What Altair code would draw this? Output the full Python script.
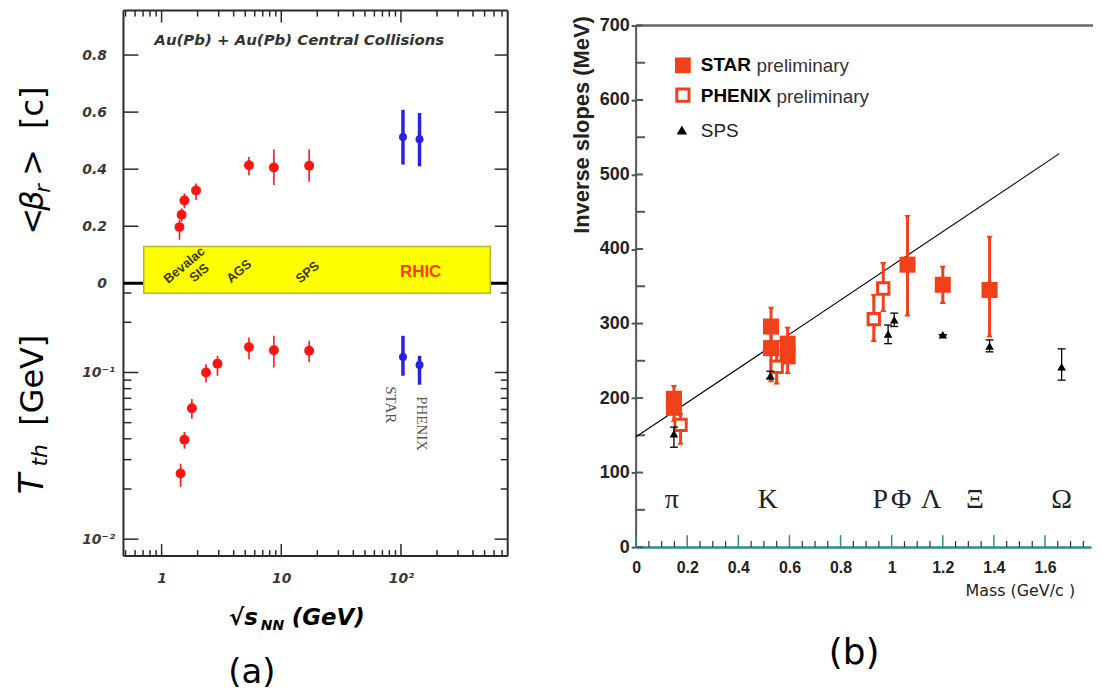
import altair as alt
import pandas as pd

# ---------------- panel (a): radial flow velocity <beta_r> ----------------
beta_red_x = [1.41, 1.47, 1.55, 1.94, 5.37, 8.67, 17.1]
beta_red_y = [0.197, 0.240, 0.290, 0.325, 0.414, 0.406, 0.412]
beta_red_lo = [0.153, 0.216, 0.263, 0.292, 0.379, 0.345, 0.356]
beta_red_hi = [0.222, 0.263, 0.315, 0.350, 0.443, 0.469, 0.469]
beta_blue_x = [104.0, 143.0]
beta_blue_y = [0.513, 0.505]
beta_blue_lo = [0.416, 0.410]
beta_blue_hi = [0.608, 0.597]

# ---------------- panel (a): thermal temperature T_th ----------------
t_red_x = [1.44, 1.55, 1.79, 2.35, 2.93, 5.37, 8.67, 17.1]
t_red_y = [0.0248, 0.0395, 0.061, 0.100, 0.113, 0.142, 0.136, 0.135]
t_red_lo = [0.0206, 0.0349, 0.0527, 0.0872, 0.0955, 0.120, 0.107, 0.115]
t_red_hi = [0.0284, 0.0440, 0.0693, 0.112, 0.126, 0.162, 0.166, 0.155]
t_blue_x = [104.0, 143.0]
t_blue_y = [0.124, 0.111]
t_blue_lo = [0.0956, 0.0845]
t_blue_hi = [0.166, 0.126]
exp_names = ["STAR", "PHENIX"]
exp_label_x = [82.6, 149.0]
exp_label_t = [0.0641, 0.0494]

acc_names = ["Bevalac", "SIS", "AGS", "SPS"]
acc_x = [1.55, 2.07, 4.44, 16.6]
acc_beta = [0.063, 0.036, 0.042, 0.038]
rhic_name = ["RHIC"]
rhic_x = [146.0]
rhic_beta = [0.038]
band_x0 = [0.709]
band_x1 = [558.0]
band_top = [0.129]

log_major = [1, 10, 100]
log_minor = [0.5, 0.6, 0.7, 0.8, 0.9, 2, 3, 4, 5, 6, 7, 8, 9, 20, 30, 40, 50,
             60, 70, 80, 90, 200, 300, 400, 500, 600, 700]
beta_ticks = [0.2, 0.4, 0.6, 0.8]
beta_labels = [0, 0.2, 0.4, 0.6, 0.8]
t_major = [0.01, 0.1]
t_minor = [0.02, 0.03, 0.04, 0.05, 0.06, 0.07, 0.08, 0.09, 0.2, 0.3]
zero_line = [0.0]

# ---------------- panel (b): inverse slopes vs mass ----------------
star_m = [0.148, 0.148, 0.528, 0.528, 0.593, 0.593, 1.062, 1.200, 1.383]
star_t = [199, 187, 296, 267, 273, 256, 379, 352, 345]
star_lo = [187, 172, 278, 225, 250, 236, 313, 330, 285]
star_hi = [214, 198, 319, 290, 292, 275, 442, 374, 414]
phenix_m = [0.174, 0.550, 0.930, 0.967]
phenix_t = [164, 242, 306, 347]
phenix_lo = [141, 222, 279, 319]
phenix_hi = [176, 262, 336, 379]
sps_m = [0.148, 0.525, 0.986, 1.010, 1.200, 1.383, 1.665]
sps_t = [152, 230, 286, 305, 285, 270, 242]
sps_lo = [134, 226, 273, 296, 285, 262, 224]
sps_hi = [161, 236, 298, 314, 285, 278, 266]
fit_m = [0.0, 1.656]
fit_t = [148, 528]
particles = ["π", "K", "P", "Φ", "Λ", "Ξ", "Ω"]
particle_m = [0.140, 0.515, 0.955, 1.037, 1.154, 1.326, 1.665]
mass_labels = [0, 0.2, 0.4, 0.6, 0.8, 1.0, 1.2, 1.4, 1.6]
mass_major = [0, 0.2, 0.4, 0.6, 0.8, 1.0, 1.2, 1.4, 1.6]
mass_minor = [0.05, 0.1, 0.15, 0.25, 0.3, 0.35, 0.45, 0.5, 0.55, 0.65, 0.7,
              0.75, 0.85, 0.9, 0.95, 1.05, 1.1, 1.15, 1.25, 1.3, 1.35, 1.45,
              1.5, 1.55, 1.65, 1.7, 1.75]
slope_labels = [0, 100, 200, 300, 400, 500, 600, 700]
slope_minor = [50, 150, 250, 350, 450, 550, 650]
frame_top = [700]
frame_left = [0]

# ---------------- styling ----------------
W_A, H_A = 386, 274          # each half of panel (a)
H_L = 2 * H_A                # full height of panel (a)
W_B, H_B = 457, 539
DV = "DejaVu Sans"
LS = "Liberation Sans"
SERIF = "Liberation Serif"
RED = "#ff1414"
BLUE = "#2b22dd"
ORANGE = "#f2401a"
FRAME = "#2a2a2a"
TEAL = "#2a8c8c"
LABEL = "#3a3a3a"

xs_a = alt.Scale(type="log", domain=[0.48, 780], nice=False)
ys_top = alt.Scale(domain=[0, 0.956], range=[H_A, 0], nice=False, zero=False)
ys_bot = alt.Scale(type="log", domain=[0.00792, 0.3428], range=[H_L, H_A], nice=False)
xs_b = alt.Scale(domain=[0, 1.78], nice=False, zero=False)
ys_b = alt.Scale(domain=[0, 720], nice=False, zero=False)

ONE = pd.DataFrame({"k": [0]})


def rule_px(x, x2, y, y2, color=FRAME, width=2.0):
    return alt.Chart(ONE).mark_rule(color=color, strokeWidth=width).encode(
        x=alt.value(x), x2=alt.value(x2), y=alt.value(y), y2=alt.value(y2))


def text_px(t, x, y, size, font=DV, angle=0, align="left", weight="normal",
            style="normal", color="black"):
    kw = dict(text=t, fontSize=size, font=font, align=align, baseline="middle",
              fontWeight=weight, fontStyle=style, color=color)
    if angle:
        kw["angle"] = angle
    return alt.Chart(ONE).mark_text(**kw).encode(x=alt.value(x), y=alt.value(y))


def xticks(values, scale, y0, y1, color=FRAME, width=1.5):
    return alt.Chart(pd.DataFrame({"v": values})).mark_rule(
        color=color, strokeWidth=width).encode(
        x=alt.X("v:Q", scale=scale, axis=None), y=alt.value(y0), y2=alt.value(y1))


def yticks(values, scale, x0, x1, color=FRAME, width=1.5):
    return alt.Chart(pd.DataFrame({"v": values})).mark_rule(
        color=color, strokeWidth=width).encode(
        y=alt.Y("v:Q", scale=scale, axis=None), x=alt.value(x0), x2=alt.value(x1))


def errbars(df, xs, ys, color, width):
    return alt.Chart(df).mark_rule(color=color, strokeWidth=width).encode(
        x=alt.X("x:Q", scale=xs, axis=None),
        y=alt.Y("lo:Q", scale=ys, axis=None), y2="hi:Q")


axis_lab = dict(labelFont=DV, labelFontSize=14, labelFontWeight="bold",
                labelFontStyle="italic", labelColor=LABEL, ticks=False,
                tickSize=0, domain=False, grid=False, title=None)

# ================= panel (a) =================
df_br = pd.DataFrame({"x": beta_red_x, "y": beta_red_y, "lo": beta_red_lo, "hi": beta_red_hi})
df_bb = pd.DataFrame({"x": beta_blue_x, "y": beta_blue_y, "lo": beta_blue_lo, "hi": beta_blue_hi})
df_acc = pd.DataFrame({"x": acc_x, "y": acc_beta, "name": acc_names})
df_rhic = pd.DataFrame({"x": rhic_x, "y": rhic_beta, "name": rhic_name})
df_band = pd.DataFrame({"x0": band_x0, "x1": band_x1, "top": band_top})
df_tr = pd.DataFrame({"x": t_red_x, "y": t_red_y, "lo": t_red_lo, "hi": t_red_hi})
df_tb = pd.DataFrame({"x": t_blue_x, "y": t_blue_y, "lo": t_blue_lo, "hi": t_blue_hi})
df_exp = pd.DataFrame({"x": exp_label_x, "y": exp_label_t, "name": exp_names})

a_layers = [
    # frame
    rule_px(0, W_A, 0, 0),
    rule_px(0, W_A, H_L, H_L),
    rule_px(0, 0, 0, H_L),
    rule_px(W_A, W_A, 0, H_L),
    # inward ticks
    xticks(log_major, xs_a, 0, 12),
    xticks(log_minor, xs_a, 0, 6),
    xticks(log_major, xs_a, H_L - 12, H_L),
    xticks(log_minor, xs_a, H_L - 6, H_L),
    yticks(beta_ticks, ys_top, 0, 15),
    yticks(beta_ticks, ys_top, W_A - 13, W_A),
    yticks(t_major, ys_bot, 0, 15),
    yticks(t_minor, ys_bot, 0, 8),
    yticks(t_major, ys_bot, W_A - 13, W_A),
    yticks(t_minor, ys_bot, W_A - 7, W_A),
    # zero line and beam energy band
    alt.Chart(pd.DataFrame({"v": zero_line})).mark_rule(color="black", strokeWidth=3).encode(
        y=alt.Y("v:Q", scale=ys_top, axis=None), x=alt.value(0), x2=alt.value(W_A)),
    alt.Chart(df_band).mark_rect(fill="#ffff00", stroke="#b8b43a", strokeWidth=1.5).encode(
        x=alt.X("x0:Q", scale=xs_a, axis=None), x2="x1:Q",
        y=alt.Y("top:Q", scale=ys_top, axis=None), y2=alt.value(H_A + 10)),
    alt.Chart(df_acc).mark_text(angle=320, font=LS, fontSize=13, fontWeight="bold",
                                color="#3a3a00").encode(
        x=alt.X("x:Q", scale=xs_a, axis=None), y=alt.Y("y:Q", scale=ys_top, axis=None),
        text="name:N"),
    alt.Chart(df_rhic).mark_text(font=LS, fontSize=17, fontWeight="bold", color="#ff3b00").encode(
        x=alt.X("x:Q", scale=xs_a, axis=None), y=alt.Y("y:Q", scale=ys_top, axis=None),
        text="name:N"),
    text_px("Au(Pb) + Au(Pb) Central Collisions", 31, 30, 15, weight="bold",
            style="italic", color="#333333"),
    alt.Chart(df_exp).mark_text(angle=90, font=SERIF, fontSize=15, color="#555555").encode(
        x=alt.X("x:Q", scale=xs_a, axis=None), y=alt.Y("y:Q", scale=ys_bot, axis=None),
        text="name:N"),
    # beta data
    errbars(df_br, xs_a, ys_top, RED, 1.6),
    alt.Chart(df_br).mark_circle(color=RED, size=100, opacity=1).encode(
        x=alt.X("x:Q", scale=xs_a, axis=None),
        y=alt.Y("y:Q", scale=ys_top,
                axis=alt.Axis(values=beta_labels, format="~g", labelPadding=17, orient="left",
                              **axis_lab))),
    errbars(df_bb, xs_a, ys_top, BLUE, 3.5),
    alt.Chart(df_bb).mark_circle(color=BLUE, size=65, opacity=1).encode(
        x=alt.X("x:Q", scale=xs_a, axis=None), y=alt.Y("y:Q", scale=ys_top, axis=None)),
    # temperature data
    errbars(df_tr, xs_a, ys_bot, RED, 1.6),
    alt.Chart(df_tr).mark_circle(color=RED, size=100, opacity=1).encode(
        x=alt.X("x:Q", scale=xs_a,
                axis=alt.Axis(values=log_major, labelPadding=16, labelFlush=False, orient="bottom",
                              labelExpr="datum.value > 50 ? '10²' : (datum.value > 5 ? '10' : '1')",
                              **axis_lab)),
        y=alt.Y("y:Q", scale=ys_bot,
                axis=alt.Axis(values=t_major, labelPadding=9, orient="left",
                              labelExpr="datum.value < 0.05 ? '10⁻²' : '10⁻¹'", **axis_lab))),
    errbars(df_tb, xs_a, ys_bot, BLUE, 3.5),
    alt.Chart(df_tb).mark_circle(color=BLUE, size=65, opacity=1).encode(
        x=alt.X("x:Q", scale=xs_a, axis=None), y=alt.Y("y:Q", scale=ys_bot, axis=None)),
    # y title  <beta_r> [c]
    text_px("<", -91, 225, 32, angle=270),
    text_px("β", -91, 201, 32, angle=270, style="italic"),
    text_px("r", -80, 183, 21, angle=270, style="italic"),
    text_px(">", -91, 166, 32, angle=270),
    text_px("[c]", -91, 119, 32, angle=270),
    # y title  T_th [GeV]
    text_px("T", -91, H_A + 212, 34, angle=270, style="italic"),
    text_px("th", -84, H_A + 184, 22, angle=270, style="italic"),
    text_px("[GeV]", -91, H_A + 143, 32, angle=270),
    # x title  sqrt(s_NN) (GeV)
    text_px("√s", 106, H_A + 336, 23, weight="bold", style="italic"),
    text_px("NN", 138, H_A + 344, 14, weight="bold", style="italic"),
    text_px("(GeV)", 169, H_A + 336, 23, weight="bold", style="italic"),
    text_px("(a)", 129, H_A + 392, 34, align="center"),
]
panel_a = (alt.layer(*a_layers)
           .resolve_scale(y="independent")
           .resolve_axis(x="independent", y="independent")
           .properties(width=W_A, height=H_L))

# ================= panel (b) =================
df_star = pd.DataFrame({"x": star_m, "y": star_t, "lo": star_lo, "hi": star_hi})
df_phx = pd.DataFrame({"x": phenix_m, "y": phenix_t, "lo": phenix_lo, "hi": phenix_hi})
df_sps = pd.DataFrame({"x": sps_m, "y": sps_t, "lo": sps_lo, "hi": sps_hi})
df_fit = pd.DataFrame({"x": fit_m, "y": fit_t})
df_part = pd.DataFrame({"x": particle_m, "name": particles})


def caps(df, color, size):
    base = alt.Chart(df)
    up = base.mark_point(shape="triangle-down", filled=True, color=color, size=size, opacity=1).encode(
        x=alt.X("x:Q", scale=xs_b, axis=None), y=alt.Y("hi:Q", scale=ys_b, axis=None))
    dn = base.mark_point(shape="triangle-up", filled=True, color=color, size=size, opacity=1).encode(
        x=alt.X("x:Q", scale=xs_b, axis=None), y=alt.Y("lo:Q", scale=ys_b, axis=None))
    return [up, dn]


def tickcaps(df, color):
    base = alt.Chart(df)
    return [base.mark_tick(orient="horizontal", size=8, thickness=1.3, color=color, opacity=1).encode(
        x=alt.X("x:Q", scale=xs_b, axis=None), y=alt.Y(f"{c}:Q", scale=ys_b, axis=None))
        for c in ("lo", "hi")]


b_layers = [
    rule_px(0, W_B, 0, 0, color="white", width=2),
    alt.Chart(pd.DataFrame({"v": frame_top})).mark_rule(color="#666666", strokeWidth=2.5).encode(
        y=alt.Y("v:Q", scale=ys_b, axis=None), x=alt.value(0), x2=alt.value(W_B + 2)),
    alt.Chart(pd.DataFrame({"v": frame_left})).mark_rule(color="#555555", strokeWidth=2).encode(
        x=alt.X("v:Q", scale=xs_b, axis=None), y=alt.value(H_B), y2=alt.value(H_B - 700 * H_B / 720)),
    yticks(slope_labels, ys_b, 0, 7, color="#555555", width=2),
    yticks(slope_minor, ys_b, 0, 9, color="#555555", width=2),
    xticks(mass_major, xs_b, H_B - 12, H_B, color=TEAL, width=1.5),
    xticks(mass_minor, xs_b, H_B - 6, H_B, color="#333333", width=1.2),
    alt.Chart(df_fit).mark_line(color="black", strokeWidth=1.1).encode(
        x=alt.X("x:Q", scale=xs_b, axis=None), y=alt.Y("y:Q", scale=ys_b, axis=None)),
    alt.Chart(df_part).mark_text(font=SERIF, fontSize=28, color="#222222").encode(
        x=alt.X("x:Q", scale=xs_b, axis=None), y=alt.value(492), text="name:N"),
    alt.Chart(df_star).mark_rule(color=ORANGE, strokeWidth=3).encode(
        x=alt.X("x:Q", scale=xs_b, axis=None), y=alt.Y("lo:Q", scale=ys_b, axis=None), y2="hi:Q"),
    *caps(df_star, ORANGE, 40),
    alt.Chart(df_star).mark_point(shape="square", filled=True, color=ORANGE, size=260, opacity=1).encode(
        x=alt.X("x:Q", scale=xs_b, axis=None), y=alt.Y("y:Q", scale=ys_b, axis=None)),
    alt.Chart(df_phx).mark_rule(color=ORANGE, strokeWidth=3).encode(
        x=alt.X("x:Q", scale=xs_b, axis=None), y=alt.Y("lo:Q", scale=ys_b, axis=None), y2="hi:Q"),
    *caps(df_phx, ORANGE, 40),
    alt.Chart(df_phx).mark_point(shape="square", filled=True, fill="white", stroke=ORANGE,
                                 strokeWidth=3, size=130, opacity=1).encode(
        x=alt.X("x:Q", scale=xs_b, axis=None), y=alt.Y("y:Q", scale=ys_b, axis=None)),
    alt.Chart(df_sps).mark_rule(color="black", strokeWidth=1.3).encode(
        x=alt.X("x:Q", scale=xs_b, axis=None), y=alt.Y("lo:Q", scale=ys_b, axis=None), y2="hi:Q"),
    *tickcaps(df_sps, "black"),
    alt.Chart(df_sps).mark_point(shape="triangle-up", filled=True, color="black", size=75, opacity=1).encode(
        x=alt.X("x:Q", scale=xs_b,
                axis=alt.Axis(values=mass_labels, format="~g", ticks=False, tickSize=0, orient="bottom",
                              domain=True, domainColor=TEAL, domainWidth=2.5, grid=False,
                              labelPadding=13, labelFlush=False, labelFont=LS, labelFontSize=16,
                              labelFontWeight="bold", labelColor="#222222", title=None)),
        y=alt.Y("y:Q", scale=ys_b,
                axis=alt.Axis(values=slope_labels, ticks=True, tickSize=5, tickWidth=2, orient="left",
                              tickColor="#555555", domain=False, grid=False, labelPadding=2,
                              labelFont=LS, labelFontSize=18, labelFontWeight="bold",
                              labelColor="#222222", title=None))),
    # legend
    alt.Chart(ONE).mark_point(shape="square", filled=True, color=ORANGE, size=250, opacity=1).encode(
        x=alt.value(47), y=alt.value(55)),
    alt.Chart(ONE).mark_point(shape="square", filled=True, fill="white", stroke=ORANGE,
                              strokeWidth=3, size=150, opacity=1).encode(x=alt.value(47), y=alt.value(85)),
    alt.Chart(ONE).mark_point(shape="triangle-up", filled=True, color="black", size=110, opacity=1).encode(
        x=alt.value(46), y=alt.value(120)),
    text_px("STAR", 65, 55, 19, font=LS, weight="bold"),
    text_px("preliminary", 121, 56, 19, font=LS, color="#333333"),
    text_px("PHENIX", 65, 86, 19, font=LS, weight="bold"),
    text_px("preliminary", 141, 87, 19, font=LS, color="#333333"),
    text_px("SPS", 65, 121, 19, font=LS, color="#222222"),
    # titles
    text_px("Inverse slopes (MeV)", -54, 115, 22, font=LS, angle=270, align="center",
            weight="bold", color="#222222"),
    text_px("Mass (GeV/c )", 441, 583, 16, align="right", color="#222222"),
    text_px("(b)", 219, 645, 36, align="center"),
]
panel_b = (alt.layer(*b_layers)
           .resolve_axis(x="independent", y="independent")
           .properties(width=W_B, height=H_B))

chart = alt.hconcat(panel_a, panel_b, spacing=61).properties(
    padding={"left": 8, "top": 0, "right": 0, "bottom": 0},
).configure(background="white").configure_view(stroke=None)

chart.save("out.html", embed_options={"renderer": "svg", "actions": False})
